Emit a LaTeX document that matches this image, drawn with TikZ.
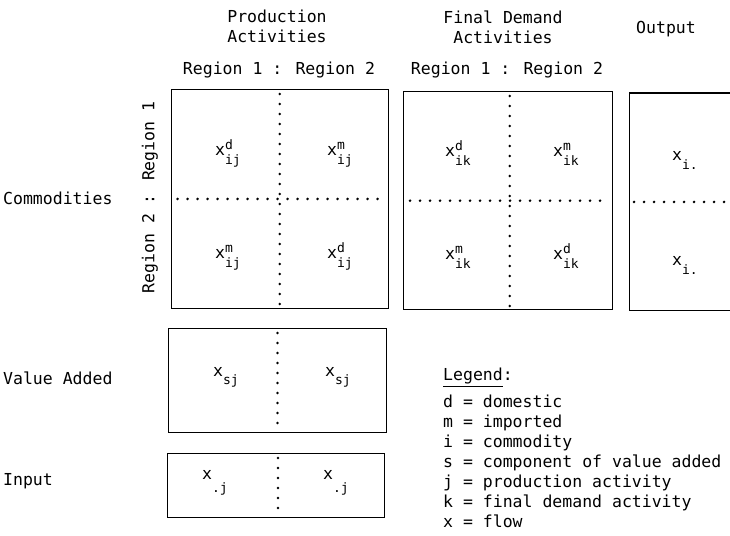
\documentclass[tikz,border=0pt]{standalone}
\usepackage{fontspec}
\setmainfont{DejaVu Sans Mono}
\usetikzlibrary{calc}

% small size for indices
\newcommand{\idxsize}{\fontsize{13bp}{14bp}\selectfont}
% flow symbol: x with superscript #2 and subscript #3 (optional #1 = drop of the subscript)
\newcommand{\flow}[3][8.5bp]{x\makebox[0pt][l]{\raisebox{6.5bp}{\idxsize #2}}\raisebox{-#1}{\idxsize #3}}

\tikzset{
  box/.style={draw, line width=1.3bp, inner sep=0pt, anchor=north west},
  dotline/.style={line width=2.8bp, line cap=round, dash pattern=on 0bp off 10bp},
  txt/.style={inner sep=0pt, font=\fontsize{16.5bp}{21bp}\selectfont},
}

\begin{document}
\begin{tikzpicture}[x=1bp, y=-1bp]
\useasboundingbox (0,0) rectangle (730,536);
\clip (0,0) rectangle (730,536);
\fill[white] (0,0) rectangle (730,536);

% ---- blocks of the table ----
\node[box, minimum width=217bp, minimum height=218.5bp] (pa)  at (170.5,89)  {};
\node[box, minimum width=209bp, minimum height=218bp]   (fd)  at (403,91)    {};
\node[box, minimum width=130bp, minimum height=217.5bp] (out) at (629,92.5)  {};
\node[box, minimum width=217.5bp, minimum height=103.5bp] (va) at (168,328)  {};
\node[box, minimum width=216.5bp, minimum height=64bp]  (inp) at (167,453)   {};

% ---- dotted partitions ----
\draw[dotline] ([yshift=-5bp]pa.north) -- (pa.south);
\draw[dotline] ([xshift=7bp]pa.west) -- ([xshift=-5bp]pa.east);
\draw[dotline] ([yshift=-5bp, xshift=1.5bp]fd.north) -- ([xshift=1.5bp]fd.south);
\draw[dotline] ([xshift=7bp]fd.west) -- ([xshift=-5bp]fd.east);
\draw[dotline] ([xshift=5bp]out.west) -- ([xshift=-29bp]out.east);
\draw[dotline] ([yshift=-5bp]va.north) -- ([yshift=3bp]va.south);
\draw[dotline] ([yshift=-5bp, xshift=2bp]inp.north) -- ([yshift=3bp, xshift=2bp]inp.south);

% ---- headings ----
\node[txt, anchor=base] (prodA) at (277,23) {Production};
\node[txt, anchor=base] (prodB) at (277,43) {Activities};
\node[txt, anchor=base] (fdA)   at (503,24) {Final Demand};
\node[txt, anchor=base] (fdB)   at (503,44) {Activities};
\node[txt, anchor=base] (outT)  at (666,34) {Output};
\node[txt, anchor=base] (regPA) at (279,75) {Region 1 : Region 2};
\node[txt, anchor=base] (regFD) at (507,75) {Region 1 : Region 2};

% ---- row labels ----
\node[txt, anchor=base west] (comm) at (3,205) {Commodities};
\node[txt, rotate=90] (regV) at (150,197.5) {Region 2 : Region 1};
\node[txt, anchor=base west] (vaT)  at (3,384) {Value Added};
\node[txt, anchor=base west] (inpT) at (3,485) {Input};

% ---- entries: production activities ----
\node[txt, anchor=base west] (p11) at (215,156) {\flow{d}{ij}};
\node[txt, anchor=base west] (p12) at (327,156) {\flow{m}{ij}};
\node[txt, anchor=base west] (p21) at (215,259) {\flow{m}{ij}};
\node[txt, anchor=base west] (p22) at (327,259) {\flow{d}{ij}};

% ---- entries: final demand activities ----
\node[txt, anchor=base west] (f11) at (445,157) {\flow{d}{ik}};
\node[txt, anchor=base west] (f12) at (553,157) {\flow{m}{ik}};
\node[txt, anchor=base west] (f21) at (445,260) {\flow{m}{ik}};
\node[txt, anchor=base west] (f22) at (553,260) {\flow{d}{ik}};

% ---- entries: output ----
\node[txt, anchor=base west] (o1) at (672,161) {\flow{}{i.}};
\node[txt, anchor=base west] (o2) at (672,266) {\flow{}{i.}};

% ---- entries: value added and input ----
\node[txt, anchor=base west] (v1) at (213,376) {\flow{}{sj}};
\node[txt, anchor=base west] (v2) at (325,376) {\flow{}{sj}};
\node[txt, anchor=base west] (i1) at (202,479) {\flow[13bp]{}{.j}};
\node[txt, anchor=base west] (i2) at (323,479) {\flow[13bp]{}{.j}};

% ---- legend ----
\node[txt, anchor=base west] (legT) at (443,380) {Legend:};
\draw[line width=1bp] ([yshift=-6bp]legT.base west) -- ([yshift=-6bp, xshift=-10bp]legT.base east);
\node[txt, anchor=base west] (lg1) at (443,407)   {d = domestic};
\node[txt, anchor=base west] (lg2) at (443,427)   {m = imported};
\node[txt, anchor=base west] (lg3) at (443,447)   {i = commodity};
\node[txt, anchor=base west] (lg4) at (443,467.5) {s = component of value added};
\node[txt, anchor=base west] (lg5) at (443,487.5) {j = production activity};
\node[txt, anchor=base west] (lg6) at (443,507.5) {k = final demand activity};
\node[txt, anchor=base west] (lg7) at (443,527.5) {x = flow};
\end{tikzpicture}
\end{document}
